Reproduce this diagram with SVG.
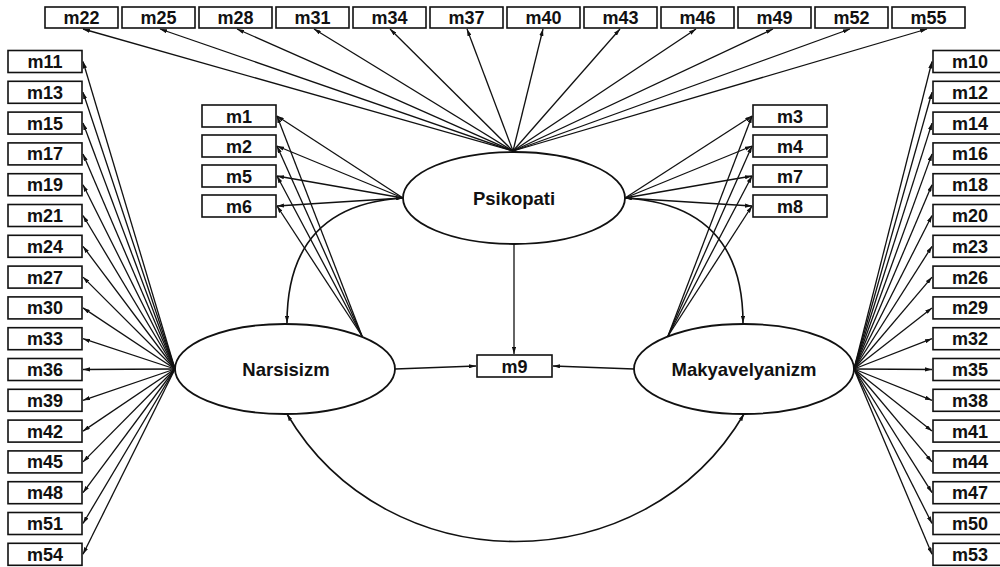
<svg xmlns="http://www.w3.org/2000/svg" width="1000" height="567" viewBox="0 0 1000 567">
<style>
.box{fill:#fff;stroke:#111;stroke-width:1.6}
.lat{fill:#fff;stroke:#111;stroke-width:1.8}
.t{font-family:"Liberation Sans",Arial,sans-serif;font-weight:bold;font-size:18px;fill:#111;text-anchor:middle}
.tl{font-family:"Liberation Sans",Arial,sans-serif;font-weight:bold;font-size:18.5px;fill:#111;text-anchor:middle}
.c line,.c path{stroke:#111;stroke-width:1.3;fill:none;marker-end:url(#ah)}
.c path.cov{stroke-width:1.6;marker-start:url(#ah)}
</style>
<defs>
<marker id="ah" viewBox="0 0 10 6" refX="10" refY="3" markerWidth="7" markerHeight="4.2" orient="auto-start-reverse" markerUnits="userSpaceOnUse"><path d="M0,0 L10,3 L0,6 z" fill="#111"/></marker>
</defs>
<rect width="1000" height="567" fill="#fff"/>

<g id="psikopati"><ellipse class="lat" cx="514" cy="198" rx="111" ry="46"/><text class="tl" x="514" y="204.5">Psikopati</text></g>
<g id="narsisizm"><ellipse class="lat" cx="285" cy="369" rx="110" ry="45"/><text class="tl" x="286" y="375.5">Narsisizm</text></g>
<g id="makyavelyanizm"><ellipse class="lat" cx="744" cy="369" rx="110" ry="45"/><text class="tl" x="744" y="375.5">Makyavelyanizm</text></g>
<g id="m9"><rect class="box" x="477" y="355" width="75" height="22"/><text class="t" x="514.5" y="372.5">m9</text></g>

<g id="m1"><rect class="box" x="202" y="105" width="74" height="22"/><text class="t" x="239" y="122.5">m1</text></g>
<g id="m2"><rect class="box" x="202" y="135" width="74" height="22"/><text class="t" x="239" y="152.5">m2</text></g>
<g id="m5"><rect class="box" x="202" y="165" width="74" height="22"/><text class="t" x="239" y="182.5">m5</text></g>
<g id="m6"><rect class="box" x="202" y="195" width="74" height="22"/><text class="t" x="239" y="212.5">m6</text></g>
<g id="m3"><rect class="box" x="753" y="105" width="74" height="22"/><text class="t" x="790" y="122.5">m3</text></g>
<g id="m4"><rect class="box" x="753" y="135" width="74" height="22"/><text class="t" x="790" y="152.5">m4</text></g>
<g id="m7"><rect class="box" x="753" y="165" width="74" height="22"/><text class="t" x="790" y="182.5">m7</text></g>
<g id="m8"><rect class="box" x="753" y="195" width="74" height="22"/><text class="t" x="790" y="212.5">m8</text></g>

<g id="m22"><rect class="box" x="45" y="7" width="73" height="21"/><text class="t" x="81.5" y="24">m22</text></g>
<g id="m25"><rect class="box" x="122" y="7" width="73" height="21"/><text class="t" x="158.5" y="24">m25</text></g>
<g id="m28"><rect class="box" x="199" y="7" width="73" height="21"/><text class="t" x="235.5" y="24">m28</text></g>
<g id="m31"><rect class="box" x="276" y="7" width="73" height="21"/><text class="t" x="312.5" y="24">m31</text></g>
<g id="m34"><rect class="box" x="353" y="7" width="73" height="21"/><text class="t" x="389.5" y="24">m34</text></g>
<g id="m37"><rect class="box" x="430" y="7" width="73" height="21"/><text class="t" x="466.5" y="24">m37</text></g>
<g id="m40"><rect class="box" x="507" y="7" width="73" height="21"/><text class="t" x="543.5" y="24">m40</text></g>
<g id="m43"><rect class="box" x="584" y="7" width="73" height="21"/><text class="t" x="620.5" y="24">m43</text></g>
<g id="m46"><rect class="box" x="661" y="7" width="73" height="21"/><text class="t" x="697.5" y="24">m46</text></g>
<g id="m49"><rect class="box" x="738" y="7" width="73" height="21"/><text class="t" x="774.5" y="24">m49</text></g>
<g id="m52"><rect class="box" x="815" y="7" width="73" height="21"/><text class="t" x="851.5" y="24">m52</text></g>
<g id="m55"><rect class="box" x="892" y="7" width="73" height="21"/><text class="t" x="928.5" y="24">m55</text></g>

<g id="m11"><rect class="box" x="8" y="50.5" width="74" height="22"/><text class="t" x="45" y="68">m11</text></g>
<g id="m13"><rect class="box" x="8" y="81.3" width="74" height="22"/><text class="t" x="45" y="98.8">m13</text></g>
<g id="m15"><rect class="box" x="8" y="112.1" width="74" height="22"/><text class="t" x="45" y="129.6">m15</text></g>
<g id="m17"><rect class="box" x="8" y="142.9" width="74" height="22"/><text class="t" x="45" y="160.4">m17</text></g>
<g id="m19"><rect class="box" x="8" y="173.7" width="74" height="22"/><text class="t" x="45" y="191.2">m19</text></g>
<g id="m21"><rect class="box" x="8" y="204.5" width="74" height="22"/><text class="t" x="45" y="222">m21</text></g>
<g id="m24"><rect class="box" x="8" y="235.3" width="74" height="22"/><text class="t" x="45" y="252.8">m24</text></g>
<g id="m27"><rect class="box" x="8" y="266.1" width="74" height="22"/><text class="t" x="45" y="283.6">m27</text></g>
<g id="m30"><rect class="box" x="8" y="296.9" width="74" height="22"/><text class="t" x="45" y="314.4">m30</text></g>
<g id="m33"><rect class="box" x="8" y="327.7" width="74" height="22"/><text class="t" x="45" y="345.2">m33</text></g>
<g id="m36"><rect class="box" x="8" y="358.5" width="74" height="22"/><text class="t" x="45" y="376">m36</text></g>
<g id="m39"><rect class="box" x="8" y="389.3" width="74" height="22"/><text class="t" x="45" y="406.8">m39</text></g>
<g id="m42"><rect class="box" x="8" y="420.1" width="74" height="22"/><text class="t" x="45" y="437.6">m42</text></g>
<g id="m45"><rect class="box" x="8" y="450.9" width="74" height="22"/><text class="t" x="45" y="468.4">m45</text></g>
<g id="m48"><rect class="box" x="8" y="481.7" width="74" height="22"/><text class="t" x="45" y="499.2">m48</text></g>
<g id="m51"><rect class="box" x="8" y="512.5" width="74" height="22"/><text class="t" x="45" y="530">m51</text></g>
<g id="m54"><rect class="box" x="8" y="543.3" width="74" height="22"/><text class="t" x="45" y="560.8">m54</text></g>

<g id="m10"><rect class="box" x="933" y="50.5" width="74" height="22"/><text class="t" x="970" y="68">m10</text></g>
<g id="m12"><rect class="box" x="933" y="81.3" width="74" height="22"/><text class="t" x="970" y="98.8">m12</text></g>
<g id="m14"><rect class="box" x="933" y="112.1" width="74" height="22"/><text class="t" x="970" y="129.6">m14</text></g>
<g id="m16"><rect class="box" x="933" y="142.9" width="74" height="22"/><text class="t" x="970" y="160.4">m16</text></g>
<g id="m18"><rect class="box" x="933" y="173.7" width="74" height="22"/><text class="t" x="970" y="191.2">m18</text></g>
<g id="m20"><rect class="box" x="933" y="204.5" width="74" height="22"/><text class="t" x="970" y="222">m20</text></g>
<g id="m23"><rect class="box" x="933" y="235.3" width="74" height="22"/><text class="t" x="970" y="252.8">m23</text></g>
<g id="m26"><rect class="box" x="933" y="266.1" width="74" height="22"/><text class="t" x="970" y="283.6">m26</text></g>
<g id="m29"><rect class="box" x="933" y="296.9" width="74" height="22"/><text class="t" x="970" y="314.4">m29</text></g>
<g id="m32"><rect class="box" x="933" y="327.7" width="74" height="22"/><text class="t" x="970" y="345.2">m32</text></g>
<g id="m35"><rect class="box" x="933" y="358.5" width="74" height="22"/><text class="t" x="970" y="376">m35</text></g>
<g id="m38"><rect class="box" x="933" y="389.3" width="74" height="22"/><text class="t" x="970" y="406.8">m38</text></g>
<g id="m41"><rect class="box" x="933" y="420.1" width="74" height="22"/><text class="t" x="970" y="437.6">m41</text></g>
<g id="m44"><rect class="box" x="933" y="450.9" width="74" height="22"/><text class="t" x="970" y="468.4">m44</text></g>
<g id="m47"><rect class="box" x="933" y="481.7" width="74" height="22"/><text class="t" x="970" y="499.2">m47</text></g>
<g id="m50"><rect class="box" x="933" y="512.5" width="74" height="22"/><text class="t" x="970" y="530">m50</text></g>
<g id="m53"><rect class="box" x="933" y="543.3" width="74" height="22"/><text class="t" x="970" y="560.8">m53</text></g>

<g id="connectors" class="c">
<line x1="513" y1="151" x2="83" y2="29"/>
<line x1="513" y1="151" x2="160" y2="29"/>
<line x1="513" y1="151" x2="237" y2="29"/>
<line x1="513" y1="151" x2="314" y2="29"/>
<line x1="513" y1="151" x2="390" y2="29"/>
<line x1="513" y1="151" x2="467" y2="29"/>
<line x1="513" y1="151" x2="543" y2="29"/>
<line x1="513" y1="151" x2="620" y2="29"/>
<line x1="513" y1="151" x2="696" y2="29"/>
<line x1="513" y1="151" x2="773" y2="29"/>
<line x1="513" y1="151" x2="850" y2="29"/>
<line x1="513" y1="151" x2="927" y2="29"/>
<line x1="403" y1="198" x2="277" y2="116"/>
<line x1="403" y1="198" x2="277" y2="146"/>
<line x1="403" y1="198" x2="277" y2="176"/>
<line x1="403" y1="198" x2="277" y2="206"/>
<line x1="625" y1="198" x2="752" y2="116"/>
<line x1="625" y1="198" x2="752" y2="146"/>
<line x1="625" y1="198" x2="752" y2="176"/>
<line x1="625" y1="198" x2="752" y2="206"/>
<line x1="362" y1="336" x2="277" y2="116"/>
<line x1="362" y1="336" x2="277" y2="146"/>
<line x1="362" y1="336" x2="277" y2="176"/>
<line x1="362" y1="336" x2="277" y2="206"/>
<line x1="668" y1="336" x2="752" y2="116"/>
<line x1="668" y1="336" x2="752" y2="146"/>
<line x1="668" y1="336" x2="752" y2="176"/>
<line x1="668" y1="336" x2="752" y2="206"/>
<line x1="175" y1="369" x2="83" y2="61.5"/>
<line x1="175" y1="369" x2="83" y2="92.3"/>
<line x1="175" y1="369" x2="83" y2="123.1"/>
<line x1="175" y1="369" x2="83" y2="153.9"/>
<line x1="175" y1="369" x2="83" y2="184.7"/>
<line x1="175" y1="369" x2="83" y2="215.5"/>
<line x1="175" y1="369" x2="83" y2="246.3"/>
<line x1="175" y1="369" x2="83" y2="277.1"/>
<line x1="175" y1="369" x2="83" y2="307.9"/>
<line x1="175" y1="369" x2="83" y2="338.7"/>
<line x1="175" y1="369" x2="83" y2="369.5"/>
<line x1="175" y1="369" x2="83" y2="400.3"/>
<line x1="175" y1="369" x2="83" y2="431.1"/>
<line x1="175" y1="369" x2="83" y2="461.9"/>
<line x1="175" y1="369" x2="83" y2="492.7"/>
<line x1="175" y1="369" x2="83" y2="523.5"/>
<line x1="175" y1="369" x2="83" y2="554.3"/>
<line x1="854" y1="369" x2="932" y2="61.5"/>
<line x1="854" y1="369" x2="932" y2="92.3"/>
<line x1="854" y1="369" x2="932" y2="123.1"/>
<line x1="854" y1="369" x2="932" y2="153.9"/>
<line x1="854" y1="369" x2="932" y2="184.7"/>
<line x1="854" y1="369" x2="932" y2="215.5"/>
<line x1="854" y1="369" x2="932" y2="246.3"/>
<line x1="854" y1="369" x2="932" y2="277.1"/>
<line x1="854" y1="369" x2="932" y2="307.9"/>
<line x1="854" y1="369" x2="932" y2="338.7"/>
<line x1="854" y1="369" x2="932" y2="369.5"/>
<line x1="854" y1="369" x2="932" y2="400.3"/>
<line x1="854" y1="369" x2="932" y2="431.1"/>
<line x1="854" y1="369" x2="932" y2="461.9"/>
<line x1="854" y1="369" x2="932" y2="492.7"/>
<line x1="854" y1="369" x2="932" y2="523.5"/>
<line x1="854" y1="369" x2="932" y2="554.3"/>
<line x1="514" y1="244" x2="514" y2="354"/>
<line x1="395" y1="369" x2="476" y2="366"/>
<line x1="634" y1="369" x2="553" y2="366"/>
<path class="cov" d="M403,198 Q287,205 287,323"/>
<path class="cov" d="M625,198 Q743,205 743,323"/>
<path class="cov" d="M287,414 C387,584 644,584 744,414"/>
</g>
</svg>
